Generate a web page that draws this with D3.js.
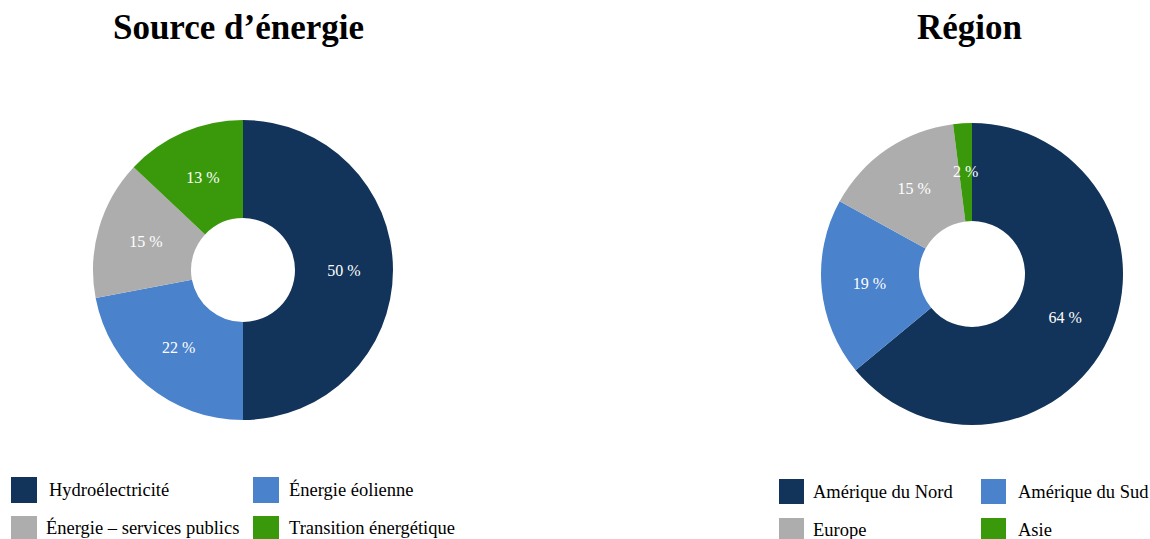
<!DOCTYPE html>
<html>
<head>
<meta charset="utf-8">
<script src="https://cdn.jsdelivr.net/npm/d3@7"></script>
<style>
  body { margin: 0; background: #fff; }
  svg { display: block; font-family: "Liberation Serif", "Times New Roman", serif; }
</style>
</head>
<body>
<svg id="chart" width="1150" height="539"></svg>
<script>
const colors = ["#12345a", "#4a82cc", "#adadad", "#3a990b"];

const sourceLabels = ["Hydroélectricité", "Énergie éolienne", "Énergie – services publics", "Transition énergétique"];
const sourceValues = [50, 22, 15, 13];

const regionLabels = ["Amérique du Nord", "Amérique du Sud", "Europe", "Asie"];
const regionValues = [64, 19, 15, 2];

const svg = d3.select("#chart");

function donut(cfg) {
  const g = svg.append("g").attr("transform", `translate(${cfg.cx},${cfg.cy})`);
  const pie = d3.pie().sort(null).value(d => d);
  const arc = d3.arc().innerRadius(cfg.inner).outerRadius(cfg.outer);
  const arcs = pie(cfg.values);

  g.selectAll("path")
    .data(arcs)
    .join("path")
      .attr("d", arc)
      .attr("fill", (d, i) => colors[i]);

  const labelArc = d3.arc().innerRadius(cfg.labelR).outerRadius(cfg.labelR);
  g.selectAll("text")
    .data(arcs)
    .join("text")
      .attr("transform", d => `translate(${labelArc.centroid(d)})`)
      .attr("text-anchor", "middle")
      .attr("dy", "0.35em")
      .attr("fill", "#fff")
      .attr("font-size", 16)
      .text(d => d.data + " %");

  // title
  svg.append("text")
    .attr("x", cfg.titleX)
    .attr("y", 39)
    .attr("text-anchor", "middle")
    .attr("font-weight", "bold")
    .attr("font-size", 35)
    .text(cfg.title);

  // legend, 2 x 2
  const leg = svg.append("g");
  cfg.labels.forEach((lab, i) => {
    const col = i % 2, row = Math.floor(i / 2);
    const x = cfg.legX[col], y = cfg.legY + row * 39;
    leg.append("rect")
      .attr("x", x).attr("y", y)
      .attr("width", cfg.sw).attr("height", cfg.sw)
      .attr("fill", colors[i]);
    leg.append("text")
      .attr("x", x + cfg.legGap[i]).attr("y", y + cfg.sw / 2 - (row ? 1 : 0))
      .attr("dy", "0.35em")
      .attr("font-size", 18.5)
      .text(lab);
  });
}

donut({
  cx: 243, cy: 270, inner: 52, outer: 150, labelR: 101,
  values: sourceValues, labels: sourceLabels,
  title: "Source d’énergie", titleX: 238.5,
  legX: [11, 253], legY: 477, sw: 26, legGap: [38, 36, 35, 36]
});

donut({
  cx: 972, cy: 274, inner: 53, outer: 151, labelR: 103,
  values: regionValues, labels: regionLabels,
  title: "Région", titleX: 969.5,
  legX: [779, 981], legY: 479, sw: 25, legGap: [34, 37, 34, 37]
});
</script>
</body>
</html>
